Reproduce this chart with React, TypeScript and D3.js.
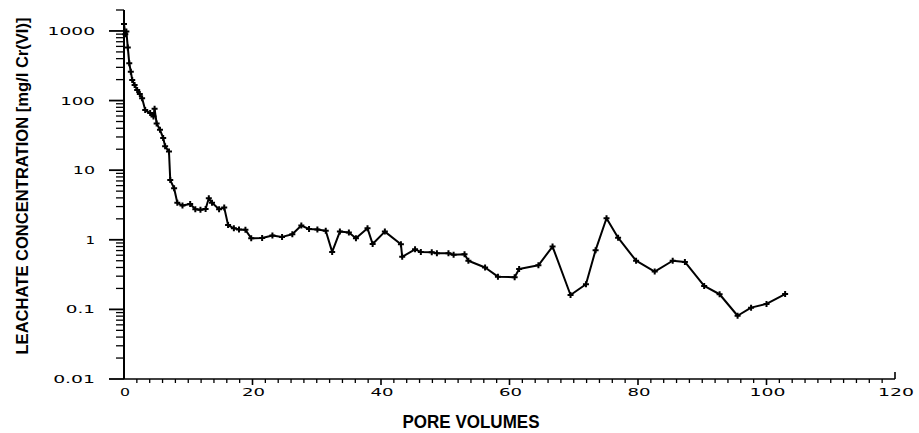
import React, { useRef, useEffect } from "react";
import * as d3 from "d3";

// pore volumes vs Cr(VI) concentration in the leachate (mg/l)
const poreVolumes = [
  0.0, 0.2, 0.37, 0.59, 0.82, 1.06, 1.28, 1.65, 2.05, 2.46, 2.82, 3.3, 4.07,
  4.59, 4.76, 5.08, 5.6, 6.1, 6.4, 7.0, 7.2, 7.8, 8.3, 9.1, 10.3, 11.1, 11.9,
  12.7, 13.2, 13.7, 14.8, 15.6, 16.2, 17.1, 17.9, 18.9, 19.8, 21.5, 23.1, 24.6,
  26.2, 27.6, 28.8, 30.1, 31.4, 32.4, 33.6, 35.0, 36.1, 37.9, 38.7, 40.6, 43.1,
  43.3, 45.3, 46.2, 47.9, 48.7, 50.5, 51.3, 53.0, 53.6, 56.2, 58.2, 60.8, 61.5,
  64.5, 66.7, 69.5, 71.9, 73.4, 75.1, 76.9, 79.7, 82.6, 85.4, 87.3, 90.3, 92.7,
  95.5, 97.6, 100.0, 102.9,
];
const concentration = [
  1260, 900, 980, 580, 344, 260, 198, 168, 142, 124, 108, 73, 66, 59, 76, 47,
  38, 29, 22, 18.5, 7.2, 5.5, 3.4, 3.1, 3.27, 2.74, 2.7, 2.77, 3.95, 3.4, 2.74,
  2.9, 1.63, 1.46, 1.41, 1.39, 1.05, 1.06, 1.15, 1.1, 1.2, 1.6, 1.43, 1.41,
  1.35, 0.67, 1.31, 1.27, 1.05, 1.46, 0.87, 1.31, 0.86, 0.57, 0.73, 0.67, 0.66,
  0.64, 0.64, 0.61, 0.62, 0.5, 0.4, 0.295, 0.29, 0.38, 0.43, 0.8, 0.161, 0.23,
  0.71, 2.04, 1.07, 0.5, 0.35, 0.5, 0.48, 0.217, 0.165, 0.081, 0.106, 0.12,
  0.166,
];

const xTicks = [0, 20, 40, 60, 80, 100, 120];
const yTicks = [0.01, 0.1, 1, 10, 100, 1000];
const yTickLabels = ["0.01", "0.1", "1", "10", "100", "1000"];

const width = 919;
const height = 433;

function App() {
  const svgRef = useRef(null);

  useEffect(() => {
    const svg = d3.select(svgRef.current);
    svg.selectAll("*").remove();

    const x = d3.scaleLinear().domain([0, 120]).range([124, 895]);
    const y = d3.scaleLog().domain([0.01, 2000]).range([379, 10]);

    const data = poreVolumes.map((v, i) => ({ x: v, y: concentration[i] }));

    // axes lines
    svg
      .append("line")
      .attr("x1", x(0))
      .attr("x2", x(0))
      .attr("y1", y(2000))
      .attr("y2", y(0.01))
      .attr("stroke", "#000")
      .attr("stroke-width", 2);
    svg
      .append("line")
      .attr("x1", x(0))
      .attr("x2", x(120))
      .attr("y1", y(0.01))
      .attr("y2", y(0.01))
      .attr("stroke", "#000")
      .attr("stroke-width", 1.6);

    // y ticks, minor ones at 2..9 of every decade
    const minor = [];
    yTicks.forEach((d) => {
      for (let k = 2; k <= 9; k++) if (k * d <= 2000) minor.push(k * d);
    });
    svg
      .selectAll(".ymin")
      .data(minor)
      .enter()
      .append("line")
      .attr("x1", x(0) - 8)
      .attr("x2", x(0))
      .attr("y1", (d) => y(d))
      .attr("y2", (d) => y(d))
      .attr("stroke", "#000")
      .attr("stroke-width", 1.3);
    svg
      .selectAll(".ymaj")
      .data(yTicks)
      .enter()
      .append("line")
      .attr("x1", x(0) - 15)
      .attr("x2", x(0))
      .attr("y1", (d) => y(d))
      .attr("y2", (d) => y(d))
      .attr("stroke", "#000")
      .attr("stroke-width", 1.8);
    svg
      .selectAll(".ylab")
      .data(yTicks)
      .enter()
      .append("text")
      .attr("x", 95)
      .attr("y", (d) => y(d) + 4)
      .attr("text-anchor", "end")
      .attr("font-family", "DejaVu Sans")
      .attr("font-size", 10)
      .attr("textLength", (d, i) => {
        const s = yTickLabels[i];
        return s.replace(".", "").length * 12.6 + (s.includes(".") ? 7 : 0) - 3;
      })
      .attr("lengthAdjust", "spacingAndGlyphs")
      .text((d, i) => yTickLabels[i]);

    // x ticks every 2 pore volumes
    const xMinor = d3.range(2, 120, 2).filter((d) => d % 20 !== 0);
    svg
      .selectAll(".xmin")
      .data(xMinor)
      .enter()
      .append("line")
      .attr("x1", (d) => x(d))
      .attr("x2", (d) => x(d))
      .attr("y1", y(0.01))
      .attr("y2", y(0.01) + 4)
      .attr("stroke", "#000")
      .attr("stroke-width", 1.3);
    svg
      .selectAll(".xmaj")
      .data(xTicks.slice(1, -1))
      .enter()
      .append("line")
      .attr("x1", (d) => x(d))
      .attr("x2", (d) => x(d))
      .attr("y1", y(0.01))
      .attr("y2", y(0.01) + 6)
      .attr("stroke", "#000")
      .attr("stroke-width", 1.6);
    svg
      .append("line")
      .attr("x1", x(120))
      .attr("x2", x(120))
      .attr("y1", y(0.01) - 7)
      .attr("y2", y(0.01))
      .attr("stroke", "#000")
      .attr("stroke-width", 1.6);
    svg
      .selectAll(".xlab")
      .data(xTicks)
      .enter()
      .append("text")
      .attr("x", (d) => x(d) + 1)
      .attr("y", 396)
      .attr("text-anchor", "middle")
      .attr("font-family", "DejaVu Sans")
      .attr("font-size", 11)
      .attr("textLength", (d) => String(d).length * 13 - 3)
      .attr("lengthAdjust", "spacingAndGlyphs")
      .text((d) => d);

    // data line
    const line = d3
      .line()
      .x((d) => x(d.x))
      .y((d) => y(d.y));
    svg
      .append("path")
      .datum(data)
      .attr("d", line)
      .attr("fill", "none")
      .attr("stroke", "#000")
      .attr("stroke-width", 2)
      .attr("stroke-linejoin", "round");

    const marker = d3.symbol().type(d3.symbolCross).size(20);
    svg
      .selectAll(".pt")
      .data(data)
      .enter()
      .append("path")
      .attr("d", marker)
      .attr("transform", (d) => `translate(${x(d.x)},${y(d.y)})`)
      .attr("fill", "#000");

    // axis titles
    svg
      .append("text")
      .attr("x", 471)
      .attr("y", 428)
      .attr("text-anchor", "middle")
      .attr("font-family", "Liberation Sans, Arial, sans-serif")
      .attr("font-weight", "bold")
      .attr("font-size", 19)
      .attr("textLength", 137)
      .attr("lengthAdjust", "spacingAndGlyphs")
      .text("PORE VOLUMES");
    svg
      .append("text")
      .attr("transform", "rotate(-90)")
      .attr("x", -186)
      .attr("y", 28)
      .attr("text-anchor", "middle")
      .attr("font-family", "Liberation Sans, Arial, sans-serif")
      .attr("font-weight", "bold")
      .attr("font-size", 17)
      .attr("textLength", 337)
      .attr("lengthAdjust", "spacingAndGlyphs")
      .text("LEACHATE CONCENTRATION [mg/l Cr(VI)]");
  }, []);

  return (
    <div style={{ position: "absolute", left: 0, top: 0 }}>
      <svg ref={svgRef} width={width} height={height} style={{ display: "block", background: "#fff" }} />
    </div>
  );
}

export default App;
